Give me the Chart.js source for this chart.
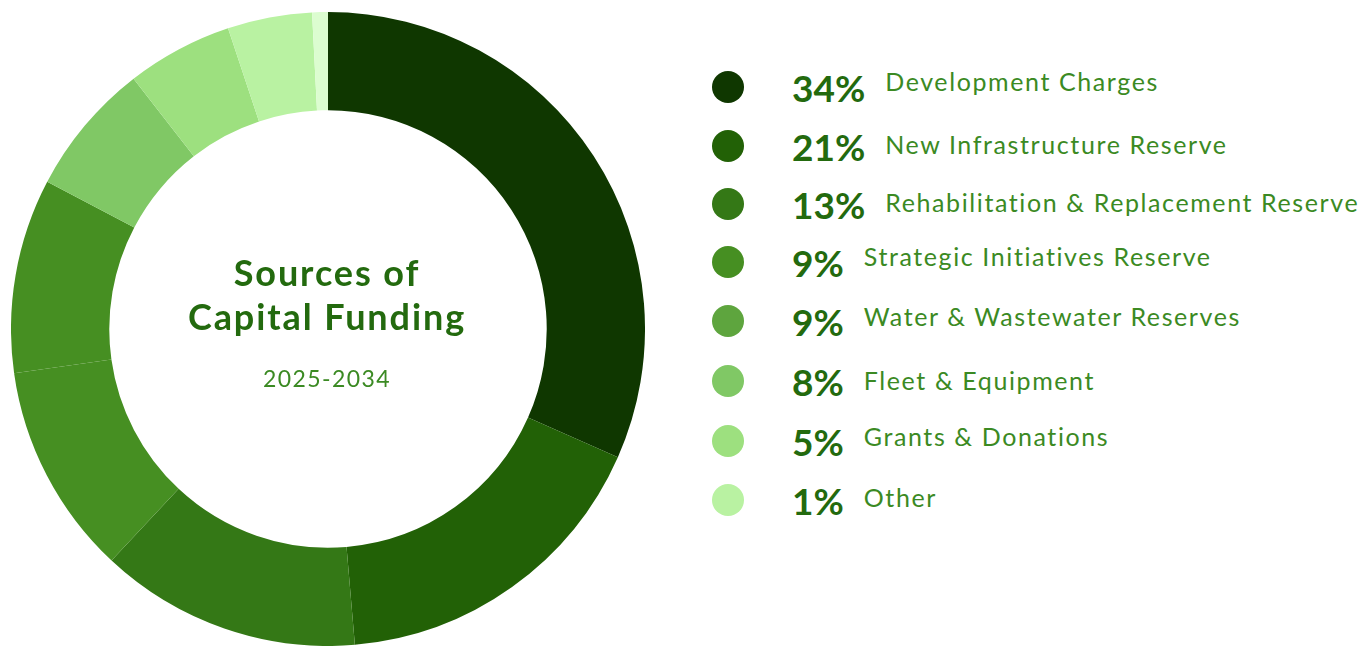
<!DOCTYPE html>
<html>
<head>
<meta charset="utf-8">
<script src="https://cdn.jsdelivr.net/npm/chart.js@4"></script>
<style>
  html, body { margin: 0; padding: 0; background: #fff; }
  body { width: 1372px; height: 646px; position: relative; overflow: hidden; font-family: 'Lato', sans-serif; }
  #ring { position: absolute; left: 10.5px; top: 12px; width: 634px; height: 634px; }
  #centre { position: absolute; left: 27px; top: 250px; width: 600px; text-align: center; color: #236a0e; }
  #centre .title { font-weight: 700; font-size: 36px; line-height: 44px; letter-spacing: 1.9px; }
  #centre .years { font-size: 23px; margin-top: 26px; letter-spacing: 1.4px; color: #3b8a23; }
  #legend { position: absolute; left: 712px; top: 0; }
  .row { position: absolute; left: 0; display: flex; align-items: center; white-space: nowrap; }
  .dot { width: 32px; height: 32px; border-radius: 50%; }
  .pct { margin-left: 48px; font-size: 37px; font-weight: 700; color: #236a0e; }
  .name { margin-left: 20px; font-size: 25px; letter-spacing: 1.6px; color: #3b8a23; position: relative; }
</style>
</head>
<body>
<div id="ring"><canvas id="funding"></canvas></div>
<div id="centre">
  <div class="title">Sources of<br>Capital Funding</div>
  <div class="years">2025-2034</div>
</div>
<div id="legend"></div>
<script>
// funding categories shown in the key
const categories = ['Development Charges', 'New Infrastructure Reserve', 'Rehabilitation & Replacement Reserve',
  'Strategic Initiatives Reserve', 'Water & Wastewater Reserves', 'Fleet & Equipment', 'Grants & Donations', 'Other'];
const percents = [34, 21, 13, 9, 9, 8, 5, 1];
const keyColors = ['#0f3700', '#226106', '#347816', '#468f22', '#5ea53e', '#80c865', '#9de07f', '#b9f2a2'];

// ring segments, clockwise from the top
const ringShares = [31.6, 17.0, 13.3, 10.8, 9.9, 6.8, 5.4, 4.3, 0.8];
const ringColors = ['#0f3700', '#226106', '#347816', '#468f22', '#468f22', '#80c865', '#9de07f', '#b9f2a2', '#dcfdd0'];

// key row centres and the small lift of each name against its percentage
const rowY = [87, 146, 204, 262, 321, 381, 441, 500];
const nameLift = [-6, -2, -2, -6, -5, -1, -5, -3];

function buildLegend() {
  const box = document.getElementById('legend');
  categories.forEach((name, i) => {
    const row = document.createElement('div');
    row.className = 'row';
    row.style.top = (rowY[i] - 25) + 'px';
    row.style.height = '50px';
    row.innerHTML = `<div class="dot" style="background:${keyColors[i]}"></div>` +
      `<span class="pct">${percents[i]}%</span>` +
      `<span class="name" style="top:${nameLift[i]}px">${name}</span>`;
    box.appendChild(row);
  });
}

function drawRing() {
  const ctx = document.getElementById('funding').getContext('2d');
  new Chart(ctx, {
    type: 'doughnut',
    data: {
      labels: ringShares.map((v, i) => 'segment ' + (i + 1)),
      datasets: [{
        data: ringShares,
        backgroundColor: ringColors,
        borderWidth: 0
      }]
    },
    options: {
      responsive: true,
      maintainAspectRatio: false,
      animation: false,
      cutout: '69%',
      layout: { padding: 0 },
      plugins: {
        legend: { display: false },
        tooltip: { enabled: false }
      }
    }
  });
}

buildLegend();
drawRing();
</script>
</body>
</html>
